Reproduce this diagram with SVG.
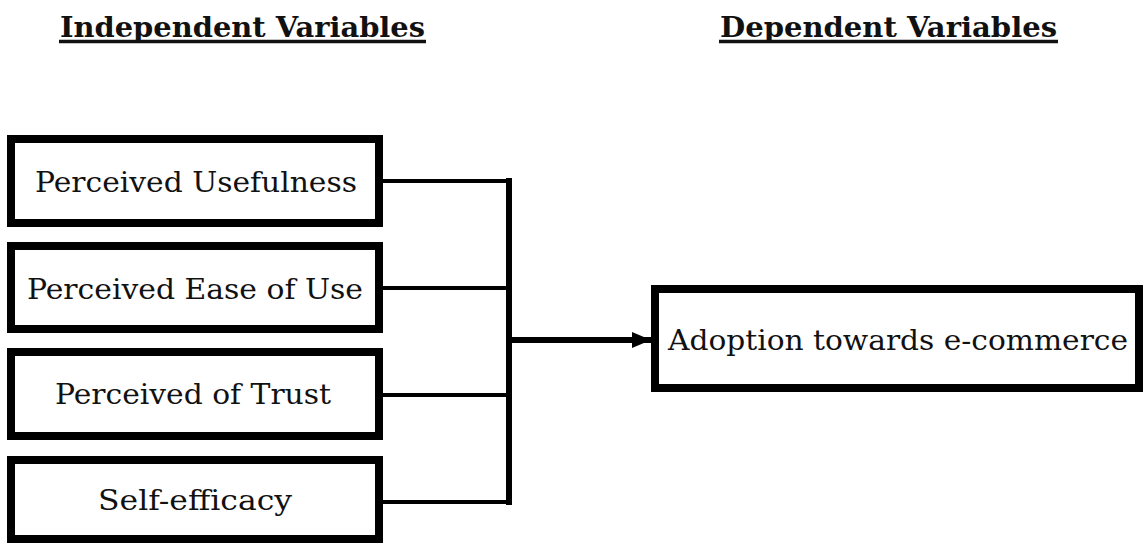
<svg xmlns="http://www.w3.org/2000/svg" width="1144" height="545" viewBox="0 0 1144 545">
  <style>
    .box { fill: #ffffff; stroke: #000000; stroke-width: 8; }
    .lbl { font-family: "DejaVu Serif", "Liberation Serif", serif; font-size: 27.5px; fill: #111111; text-anchor: middle; }
    .head { font-family: "DejaVu Serif", "Liberation Serif", serif; font-size: 28px; font-weight: bold; fill: #111111; }
    .uline { stroke: #111111; stroke-width: 3.5; }
    .wire { fill: none; stroke: #000000; stroke-width: 4; }
    .bus { fill: none; stroke: #000000; stroke-width: 6; }
  </style>
  <defs>
    <marker id="arrowhead" markerUnits="userSpaceOnUse" markerWidth="20" markerHeight="18" refX="19" refY="9" orient="auto">
      <path d="M0,1 L19,9 L0,17 Z" fill="#000000"/>
    </marker>
  </defs>
  <rect width="1144" height="545" fill="#ffffff"/>

  <!-- column headings -->
  <g id="heading-independent">
    <text class="head" x="60" y="37" textLength="365" lengthAdjust="spacingAndGlyphs">Independent Variables</text>
    <line class="uline" x1="59" y1="41.5" x2="426" y2="41.5"/>
  </g>
  <g id="heading-dependent">
    <text class="head" x="720" y="37" textLength="337" lengthAdjust="spacingAndGlyphs">Dependent Variables</text>
    <line class="uline" x1="719" y1="41.5" x2="1058" y2="41.5"/>
  </g>

  <!-- connectors -->
  <g id="connectors">
    <polyline class="wire" points="383,181 509,181"/>
    <polyline class="wire" points="383,288 509,288"/>
    <polyline class="wire" points="383,395 509,395"/>
    <polyline class="wire" points="383,502 509,502"/>
    <polyline class="bus" points="509,178 509,505"/>
    <line class="bus" x1="509" y1="340" x2="651" y2="340" marker-end="url(#arrowhead)"/>
  </g>

  <!-- independent variables -->
  <g id="perceived-usefulness">
    <rect class="box" x="11" y="139" width="368" height="84"/>
    <text class="lbl" x="196" y="192" textLength="322" lengthAdjust="spacingAndGlyphs">Perceived Usefulness</text>
  </g>
  <g id="perceived-ease-of-use">
    <rect class="box" x="11" y="246" width="368" height="83"/>
    <text class="lbl" x="195" y="299" textLength="336" lengthAdjust="spacingAndGlyphs">Perceived Ease of Use</text>
  </g>
  <g id="perceived-of-trust">
    <rect class="box" x="11" y="352" width="368" height="84"/>
    <text class="lbl" x="193" y="404" textLength="276" lengthAdjust="spacingAndGlyphs">Perceived of Trust</text>
  </g>
  <g id="self-efficacy">
    <rect class="box" x="11" y="460" width="368" height="79"/>
    <text class="lbl" x="195" y="510" textLength="194" lengthAdjust="spacingAndGlyphs">Self-efficacy</text>
  </g>

  <!-- dependent variable -->
  <g id="adoption-ecommerce">
    <rect class="box" x="655" y="289" width="484" height="99"/>
    <text class="lbl" x="898" y="350" textLength="460" lengthAdjust="spacingAndGlyphs">Adoption towards e-commerce</text>
  </g>
</svg>
